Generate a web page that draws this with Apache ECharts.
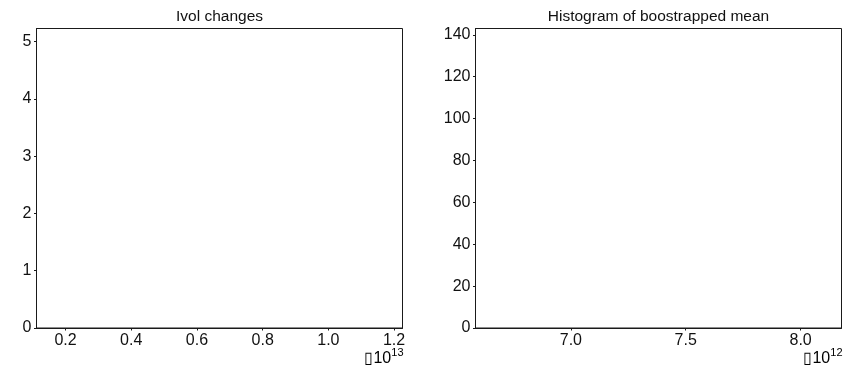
<!DOCTYPE html>
<html>
<head>
<meta charset="utf-8">
<script src="https://cdn.jsdelivr.net/npm/echarts@6/dist/echarts.min.js"></script>
<style>
  html, body { margin: 0; padding: 0; background: #fff; }
  #chart { width: 854px; height: 368px; }
</style>
</head>
<body>
<div id="chart"></div>
<script>
// Panel titles
const titles = ['Ivol changes', 'Histogram of boostrapped mean'];

// Left panel: Ivol changes (x in units of 1e13)
const ivolBins = [];                 // [binCentre, count] pairs
const ivolXRange = [0.1117, 1.2256];
const ivolYRange = [0, 5.23];
const ivolXTicks = [0.2, 0.4, 0.6, 0.8, 1.0, 1.2];
const ivolYTicks = [0, 1, 2, 3, 4, 5];
const ivolExponent = '13';

// Right panel: histogram of bootstrapped mean (x in units of 1e12)
const bootBins = [];                 // [binCentre, count] pairs
const bootXRange = [6.585, 8.178];
const bootYRange = [0, 143];
const bootXTicks = [7.0, 7.5, 8.0];
const bootYTicks = [0, 20, 40, 60, 80, 100, 120, 140];
const bootExponent = '12';

const FONT = '"Liberation Sans", Arial, sans-serif';
const LINE = '#1a1a1a';
const TEXT = '#111';

const grids = [
  { left: 36.5, top: 28.5, width: 366, height: 299.5 },
  { left: 475.5, top: 28.5, width: 366, height: 299.5 }
];

function xAxis(idx, range, ticks) {
  return {
    type: 'value', gridIndex: idx, min: range[0], max: range[1],
    splitLine: { show: false },
    axisLine: { show: true, lineStyle: { color: LINE, width: 1 } },
    axisTick: { show: true, length: 2.5, customValues: ticks, lineStyle: { color: LINE } },
    axisLabel: {
      customValues: ticks, margin: 5, color: TEXT, fontFamily: FONT, fontSize: 16,
      formatter: v => v.toFixed(1)
    }
  };
}
function yAxis(idx, range, ticks) {
  return {
    type: 'value', gridIndex: idx, min: range[0], max: range[1],
    splitLine: { show: false },
    axisLine: { show: true, lineStyle: { color: LINE, width: 1 } },
    axisTick: { show: true, length: 2.5, customValues: ticks, lineStyle: { color: LINE } },
    axisLabel: {
      customValues: ticks, margin: 5, color: TEXT, fontFamily: FONT, fontSize: 16,
      formatter: v => String(Math.round(v))
    }
  };
}

// "x10^n" scale note under the right end of each x axis
function exponentLabel(grid, exp) {
  return {
    type: 'text',
    right: 854 - (grid.left + grid.width) - 1,
    top: 347,
    style: {
      text: '{a|\u25AF10}{b|' + exp + '}',
      rich: {
        a: { fontFamily: FONT, fontSize: 16, color: TEXT, lineHeight: 20, verticalAlign: 'bottom' },
        b: { fontFamily: FONT, fontSize: 11, color: TEXT, lineHeight: 20, verticalAlign: 'top', padding: [0, 0, 6, 0] }
      }
    }
  };
}

const chart = echarts.init(document.getElementById('chart'), null, { renderer: 'canvas' });
chart.setOption({
  animation: false,
  backgroundColor: '#fff',
  title: grids.map((g, i) => ({
    text: titles[i],
    left: g.left + g.width / 2,
    textAlign: 'center',
    top: 9,
    padding: 0,
    textStyle: { fontFamily: FONT, fontSize: 15.5, fontWeight: 'normal', color: TEXT }
  })),
  grid: grids.map(g => Object.assign({ show: true, borderColor: LINE, borderWidth: 1, backgroundColor: '#fff' }, g)),
  xAxis: [xAxis(0, ivolXRange, ivolXTicks), xAxis(1, bootXRange, bootXTicks)],
  yAxis: [yAxis(0, ivolYRange, ivolYTicks), yAxis(1, bootYRange, bootYTicks)],
  series: [
    { type: 'bar', xAxisIndex: 0, yAxisIndex: 0, data: ivolBins, barWidth: '100%', itemStyle: { color: '#0072bd' } },
    { type: 'bar', xAxisIndex: 1, yAxisIndex: 1, data: bootBins, barWidth: '100%', itemStyle: { color: '#0072bd' } }
  ],
  graphic: [exponentLabel(grids[0], ivolExponent), exponentLabel(grids[1], bootExponent)]
});
</script>
</body>
</html>
